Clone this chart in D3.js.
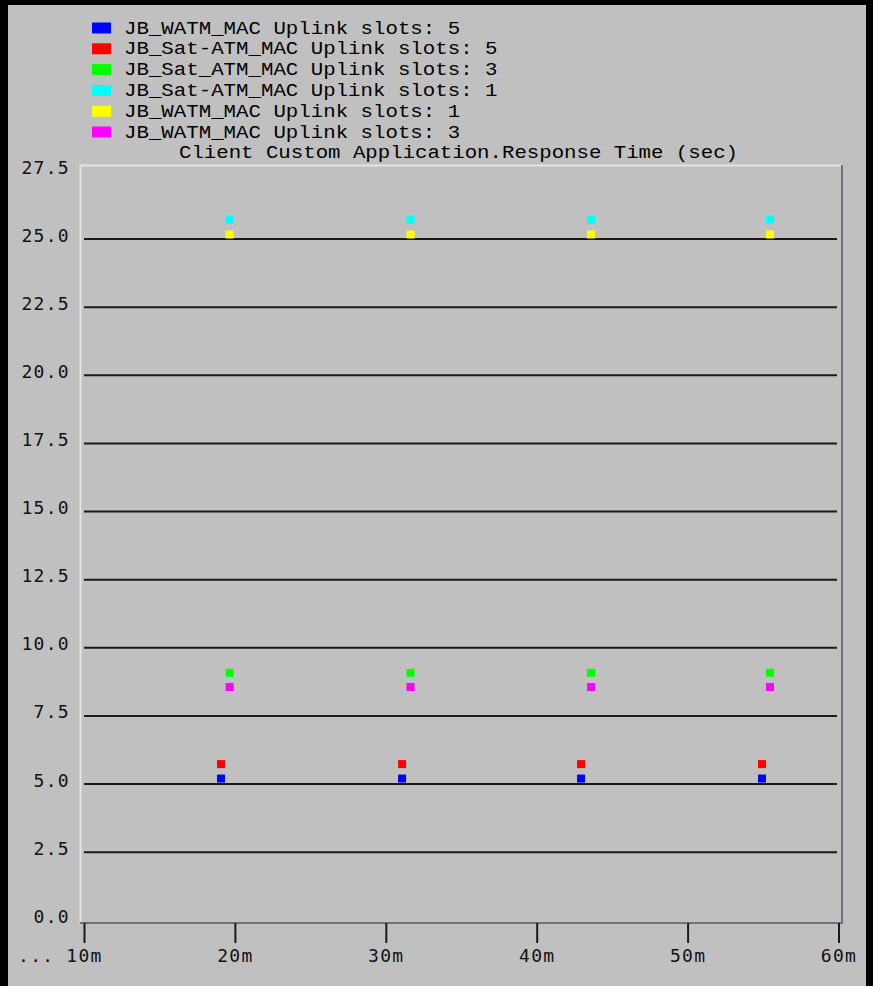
<!DOCTYPE html>
<html>
<head>
<meta charset="utf-8">
<script src="https://cdn.jsdelivr.net/npm/d3@7"></script>
<style>
  html, body { margin: 0; padding: 0; background: #000; }
  svg { display: block; }
</style>
</head>
<body>
<script>
// ---- data ----
const seriesNames = [
  "JB_WATM_MAC Uplink slots: 5",
  "JB_Sat-ATM_MAC Uplink slots: 5",
  "JB_Sat_ATM_MAC Uplink slots: 3",
  "JB_Sat-ATM_MAC Uplink slots: 1",
  "JB_WATM_MAC Uplink slots: 1",
  "JB_WATM_MAC Uplink slots: 3"
];
const seriesColors = ["#0000ff", "#ff0000", "#00ff00", "#00ffff", "#ffff00", "#ff00ff"];
const timesA = [19.08, 31.08, 42.94, 54.93];   // minutes (blue, red)
const timesB = [19.65, 31.64, 43.6, 55.46];    // minutes (green, cyan, yellow, magenta)
const blueVals    = [5.20, 5.20, 5.20, 5.20];
const redVals     = [5.73, 5.73, 5.73, 5.73];
const greenVals   = [9.08, 9.08, 9.08, 9.08];
const cyanVals    = [25.71, 25.71, 25.71, 25.71];
const yellowVals  = [25.17, 25.17, 25.17, 25.17];
const magentaVals = [8.56, 8.56, 8.56, 8.56];
const seriesTimes = [timesA, timesA, timesB, timesB, timesB, timesB];
const seriesVals = [blueVals, redVals, greenVals, cyanVals, yellowVals, magentaVals];
const yTicks = [0, 2.5, 5, 7.5, 10, 12.5, 15, 17.5, 20, 22.5, 25, 27.5];
const gridVals = [2.5, 5, 7.5, 10, 12.5, 15, 17.5, 20, 22.5, 25];
const xTicks = [10, 20, 30, 40, 50, 60];
const title = "Client Custom Application.Response Time (sec)";

// ---- layout ----
const W = 873, H = 986;
const svg = d3.select("body").append("svg").attr("width", W).attr("height", H);
svg.append("rect").attr("x", 0).attr("y", 0).attr("width", W).attr("height", H).attr("fill", "#000");
svg.append("rect").attr("x", 8).attr("y", 5).attr("width", 858).attr("height", H - 5).attr("fill", "#c0c0c0");

const x = d3.scaleLinear().domain([10, 60]).range([84, 838.5]);
const y = d3.scaleLinear().domain([0, 27.5]).range([920.25, 171]);

const monoFont = "'Liberation Mono', 'DejaVu Sans Mono', monospace";
const tickFont = "'DejaVu Sans Mono', monospace";

// legend
const leg = svg.append("g");
seriesNames.forEach((name, i) => {
  const cy = 28 + i * 20.8;
  leg.append("rect").attr("x", 92).attr("y", cy - 5.5).attr("width", 19).attr("height", 11)
    .attr("fill", seriesColors[i]);
  leg.append("text").attr("x", 124).attr("y", cy + 5.5)
    .attr("font-family", monoFont).attr("font-size", 18)
    .attr("textLength", name.length * 12.45).attr("lengthAdjust", "spacingAndGlyphs")
    .attr("fill", "#000").text(name);
});

// title
svg.append("text").attr("x", 179).attr("y", 158)
  .attr("font-family", monoFont).attr("font-size", 18)
  .attr("textLength", 559).attr("lengthAdjust", "spacingAndGlyphs")
  .attr("fill", "#000").text(title);

// gridlines
svg.append("g").selectAll("line").data(gridVals).join("line")
  .attr("x1", 84).attr("x2", 837)
  .attr("y1", d => y(d)).attr("y2", d => y(d))
  .attr("stroke", "#1a1a1a").attr("stroke-width", 2);

// frame
svg.append("line").attr("x1", 80).attr("x2", 843).attr("y1", 165.5).attr("y2", 165.5)
  .attr("stroke", "#e4e4e4").attr("stroke-width", 2);
svg.append("line").attr("x1", 80.5).attr("x2", 80.5).attr("y1", 165).attr("y2", 924)
  .attr("stroke", "#e4e4e4").attr("stroke-width", 2);
svg.append("line").attr("x1", 842).attr("x2", 842).attr("y1", 165).attr("y2", 924)
  .attr("stroke", "#70707a").attr("stroke-width", 2);
svg.append("line").attr("x1", 80).attr("x2", 843).attr("y1", 923).attr("y2", 923)
  .attr("stroke", "#70707a").attr("stroke-width", 2);

// y axis labels
const yAxis = svg.append("g").attr("transform", "translate(80,0)")
  .call(d3.axisLeft(y).tickValues(yTicks).tickSize(0).tickPadding(10).tickFormat(d3.format(".1f")));
yAxis.select(".domain").remove();
yAxis.selectAll("text").attr("dy", 2).attr("font-family", tickFont).attr("font-size", 18)
  .attr("letter-spacing", 1.3).attr("fill", "#111");

// x axis
const xAxis = svg.append("g").attr("transform", "translate(0,923)")
  .call(d3.axisBottom(x).tickValues(xTicks).tickSize(20).tickFormat(d => d + "m"));
xAxis.select(".domain").remove();
xAxis.selectAll(".tick line").attr("stroke", "#1a1a1a").attr("stroke-width", 2);
xAxis.selectAll("text").attr("y", 39).attr("dy", 0).attr("font-family", tickFont).attr("font-size", 18)
  .attr("letter-spacing", 1.3).attr("fill", "#111");

svg.append("text").attr("x", 18).attr("y", 962).attr("font-family", tickFont).attr("font-size", 18)
  .attr("letter-spacing", 1.3).attr("fill", "#111").text("...");

// points
seriesNames.forEach((name, i) => {
  const pts = seriesTimes[i].map((t, j) => ({ t, v: seriesVals[i][j] }));
  svg.append("g").selectAll("rect").data(pts).join("rect")
    .attr("x", d => x(d.t) - 4).attr("y", d => y(d.v) - 4)
    .attr("width", 8).attr("height", 8)
    .attr("fill", seriesColors[i]);
});
</script>
</body>
</html>
